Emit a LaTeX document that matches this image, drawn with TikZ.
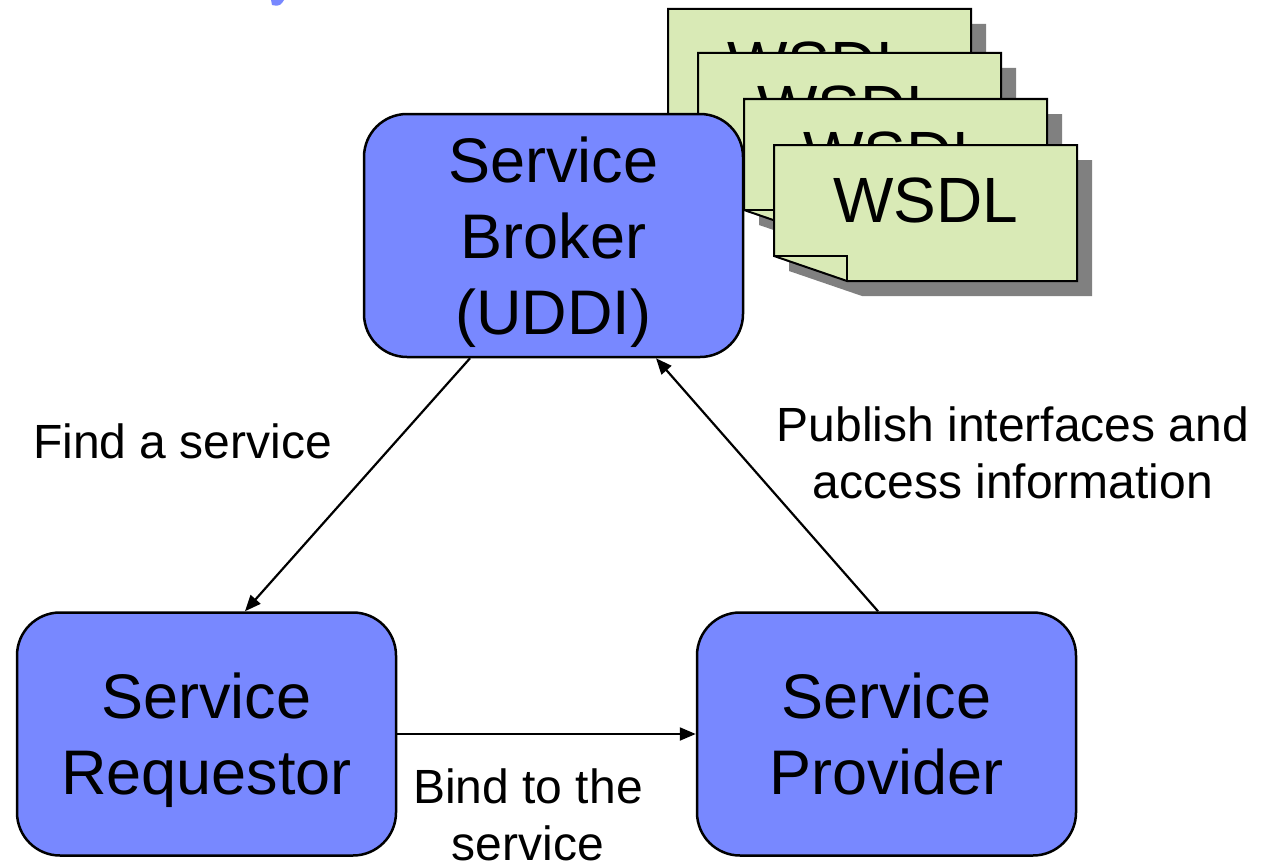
\documentclass[tikz,border=0pt]{standalone}
\usepackage{fontspec}
\setmainfont{Liberation Sans}
\usetikzlibrary{arrows.meta,calc}
\definecolor{boxblue}{RGB}{120,136,255}
\definecolor{docgreen}{RGB}{217,234,182}
\definecolor{shadowgray}{RGB}{128,128,128}
\tikzset{
  svcbox/.style={draw=black, line width=2.5pt, fill=boxblue, rounded corners=43pt,
    minimum width=379pt, minimum height=243pt, inner sep=0pt, align=center,
    text depth=0pt, font=\fontsize{63}{76}\selectfont},
  conn/.style={line width=2.2pt, -{Triangle[length=16pt,width=13pt]}},
  lbl/.style={inner sep=0pt, align=center, font=\fontsize{48}{57}\selectfont},
  doctext/.style={inner sep=0pt, anchor=base, font=\fontsize{64}{64}\selectfont},
}
\newcommand{\wsdldoc}[3]{%
  \fill[shadowgray] ($(#1,#2)+(15,15)$) -- ++(303,0) -- ++(0,136) -- ++(-230,0) -- ++(-73,-25) -- cycle;
  \filldraw[fill=docgreen, draw=black, line width=2pt] (#1,#2) -- ++(303,0) -- ++(0,136) -- ++(-230,0) -- ++(-73,-25) -- cycle;
  \draw[line width=2pt] ($(#1,#2)+(0,111)$) -- ++(73,0) -- ++(0,25);
  \node[doctext] (#3) at ($(#1,#2)+(151.5,77)$) {WSDL};
}
\begin{document}
\begin{tikzpicture}[x=1pt,y=-1pt]
\useasboundingbox (0,0) rectangle (1267,867);
% fragment of cut-off title
\fill[boxblue] (271,0) -- (284,0) -- (282,3) .. controls (280,6) and (276,6) .. (272,5) -- cycle;
% back documents
\wsdldoc{668}{9}{docA}
\wsdldoc{698}{53}{docB}
% broker
\node[svcbox] (broker) at (553.5,235.5) {Service\\Broker\\(UDDI)};
% front documents
\wsdldoc{744}{99}{docC}
\wsdldoc{774}{145}{docD}
% requestor and provider
\node[svcbox] (req) at (206.5,734) {Service\\Requestor};
\node[svcbox] (prov) at (886.5,734) {Service\\Provider};
% connectors
\draw[conn] ([xshift=-83.5pt]broker.south) -- ([xshift=38.5pt]req.north);
\draw[conn] ([xshift=-8.5pt]prov.north) -- ([xshift=102.5pt]broker.south);
\draw[conn] (req.east) -- (prov.west);
% labels
\node[lbl, anchor=base west] (findlbl) at (33,458) {Find a service};
\node[lbl, anchor=base] (publbl) at (1013,498) {Publish interfaces and\\access information};
\node[lbl, anchor=base] (bindlbl) at (528,860) {Bind to the\\service};
\end{tikzpicture}
\end{document}
